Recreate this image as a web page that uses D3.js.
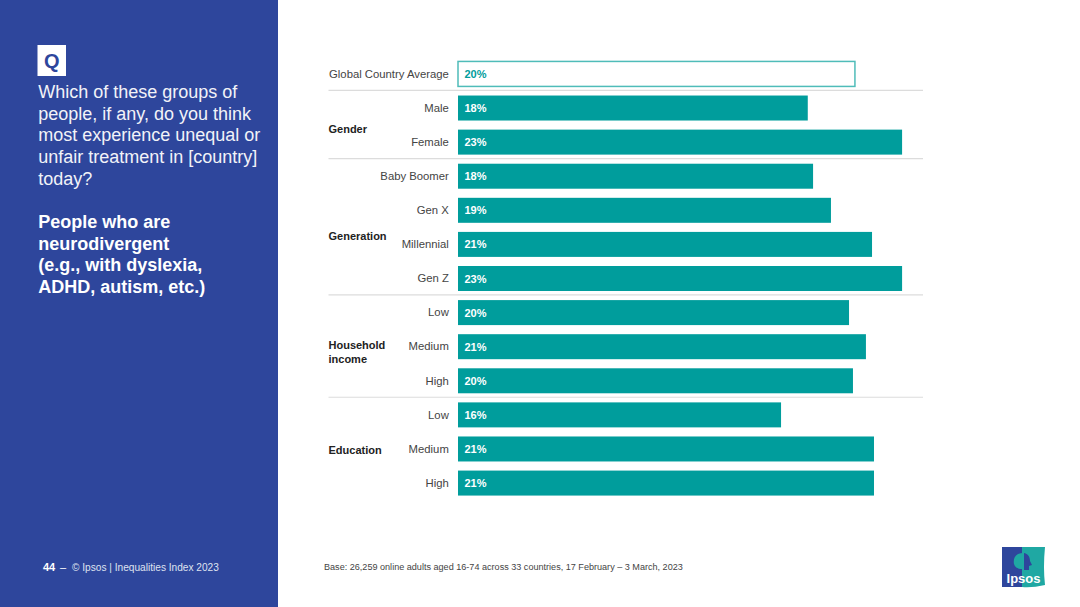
<!DOCTYPE html>
<html><head><meta charset="utf-8">
<script src="https://cdn.jsdelivr.net/npm/d3@7/dist/d3.min.js"></script>
<style>html,body{margin:0;padding:0;background:#fff}svg{display:block;font-family:"Liberation Sans",Arial,sans-serif}</style>
</head><body><svg id="c" width="1080" height="607"></svg>
<script>
const categories=["Global Country Average","Male","Female","Baby Boomer","Gen X","Millennial","Gen Z","Low","Medium","High","Low","Medium","High"];
const rowIds=d3.range(categories.length);
const values=[20.2,17.8,22.6,18.07,18.98,21.07,22.6,19.9,20.76,20.1,16.44,21.17,21.17];
const valueLabels=["20%","18%","23%","18%","19%","21%","23%","20%","21%","20%","16%","21%","21%"];
const groups=[["Gender"],["Generation"],["Household","income"],["Education"]];
const groupSpans=[[1,2],[3,6],[7,9],[10,12]];
const groupNudge=[4,9,5.5,2];
const questionLines=["Which of these groups of","people, if any, do you think","most experience unequal or","unfair treatment in [country]","today?"];
const boldLines=["People who are","neurodivergent","(e.g., with dyslexia,","ADHD, autism, etc.)"];

const svg=d3.select("#c");
const BLUE="#2e469c",TEAL="#009d9c",INK="#444444";
svg.append("rect").attr("width",278).attr("height",607).attr("fill",BLUE);
svg.append("rect").attr("x",37.5).attr("y",45).attr("width",28.5).attr("height",31).attr("fill","#fff");
svg.append("text").attr("x",51.7).attr("y",68).attr("text-anchor","middle").attr("font-size",20).attr("font-weight",700).attr("fill",BLUE).text("Q");
questionLines.forEach((t,i)=>svg.append("text").attr("x",38.2).attr("y",98+i*21.7).attr("font-size",18).attr("fill","#f2f3f8").text(t));
boldLines.forEach((t,i)=>svg.append("text").attr("x",38.2).attr("y",228+i*21.6).attr("font-size",18).attr("font-weight",700).attr("fill","#fff").text(t));
svg.append("text").attr("x",43).attr("y",571).attr("font-size",11).attr("font-weight",700).attr("fill","#fff").text("44");
svg.append("text").attr("x",60).attr("y",571).attr("font-size",11).attr("fill","#fff").text("–");
svg.append("text").attr("x",72).attr("y",571).attr("font-size",10.15).attr("fill","#dfe3f0").text("© Ipsos | Inequalities Index 2023");

const y=d3.scaleBand().domain(rowIds).range([57,500]).paddingInner(0.267).paddingOuter(0.13);
const x=d3.scaleLinear().domain([0,23]).range([458,458+23*19.65]);
const g=svg.append("g");
g.selectAll("rect.bar").data(rowIds).join("rect").attr("class","bar")
 .attr("x",x(0)).attr("y",i=>y(i)).attr("width",i=>x(values[i])-x(0)).attr("height",y.bandwidth())
 .attr("fill",i=>i===0?"#fff":TEAL)
 .attr("stroke",i=>i===0?"#4fbcb9":"none").attr("stroke-width",1.5);
g.selectAll("text.val").data(rowIds).join("text").attr("class","val")
 .attr("x",x(0)+6.5).attr("y",i=>y(i)+y.bandwidth()/2+4).attr("font-size",11).attr("font-weight",700)
 .attr("fill",i=>i===0?TEAL:"#fff").text(i=>valueLabels[i]);
g.selectAll("text.cat").data(rowIds).join("text").attr("class","cat")
 .attr("x",448.8).attr("y",i=>y(i)+y.bandwidth()/2+3.8).attr("text-anchor","end").attr("font-size",11.3).attr("fill",INK).text(i=>categories[i]);
groupSpans.forEach(([a,b],k)=>{
  const top=y(a)-(y.step()-y.bandwidth())/2-0.6;
  g.append("line").attr("x1",328.5).attr("x2",923).attr("y1",top).attr("y2",top).attr("stroke","#dcdcdc").attr("stroke-width",1.2);
  const c=(y(a)+y(b)+y.bandwidth())/2+3.5-(groups[k].length-1)*6.5+groupNudge[k];
  groups[k].forEach((t,j)=>g.append("text").attr("x",328.5).attr("y",c+j*13.6).attr("font-size",11).attr("font-weight",700).attr("fill","#222").text(t));
});
svg.append("text").attr("x",324).attr("y",570).attr("font-size",9.08).attr("fill",INK).text("Base: 26,259 online adults aged 16-74 across 33 countries, 17 February – 3 March, 2023");

// logo
const lg=svg.append("g").attr("transform","translate(1002,547)");
lg.append("path").attr("d","M0,0H22V40H0Z").attr("fill","#2e469c");
lg.append("path").attr("d","M20,0H43Q41,20 43,38Q30,41 20,40Z").attr("fill","#1fa8a3");
lg.append("path").attr("d","M21,6C13,6 11,12 12,17C13,21 17,22 20,22V27H23V6Z").attr("fill","#1fa8a3");
lg.append("path").attr("d","M22,6C27,7 28,11 28,14L30,18L27,19V23H22Z").attr("fill","#2e469c");
lg.append("text").attr("x",21.5).attr("y",35.5).attr("text-anchor","middle").attr("font-size",13).attr("font-weight",700).attr("fill","#fff").text("Ipsos");
</script></body></html>
